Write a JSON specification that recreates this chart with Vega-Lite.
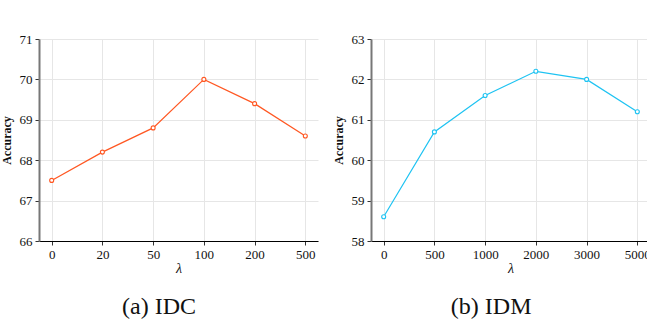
{
  "$schema": "https://vega.github.io/schema/vega-lite/v6.json",
  "padding": {"left": 0, "top": 33, "right": 0, "bottom": 0},
  "spacing": 14,
  "config": {
    "view": {"stroke": null},
    "font": "Liberation Serif",
    "axis": {
      "labelFont": "Liberation Serif",
      "labelFontSize": 13,
      "labelColor": "#111",
      "titleFont": "Liberation Serif",
      "titleColor": "#111",
      "gridColor": "#e6e6e6",
      "gridWidth": 1,
      "tickSize": 4,
      "tickColor": "#333",
      "labelPadding": 3
    },
    "axisX": {"domainColor": "#000", "domainWidth": 1.2, "titleFontStyle": "italic", "titleFontWeight": "normal", "titleFontSize": 14, "titlePadding": 0, "labelAngle": 0},
    "axisY": {"domainColor": "#777", "domainWidth": 2, "titleFontWeight": "bold", "titleFontSize": 12, "titlePadding": 6},
    "title": {"font": "Liberation Serif", "fontSize": 24, "fontWeight": "normal", "color": "#111", "orient": "bottom", "offset": 20, "anchor": "middle", "frame": "bounds"}
  },
  "datasets": {
    "idc": [
      {"lambda": "0", "acc": 67.5},
      {"lambda": "20", "acc": 68.2},
      {"lambda": "50", "acc": 68.8},
      {"lambda": "100", "acc": 70.0},
      {"lambda": "200", "acc": 69.4},
      {"lambda": "500", "acc": 68.6}
    ],
    "idm": [
      {"lambda": "0", "acc": 58.6},
      {"lambda": "500", "acc": 60.7},
      {"lambda": "1000", "acc": 61.6},
      {"lambda": "2000", "acc": 62.2},
      {"lambda": "3000", "acc": 62.0},
      {"lambda": "5000", "acc": 61.2}
    ]
  },
  "hconcat": [
    {
      "width": 279,
      "height": 202,
      "title": "(a) IDC",
      "data": {"name": "idc"},
      "encoding": {
        "x": {"field": "lambda", "type": "ordinal", "sort": null, "scale": {"type": "point", "padding": 0.25}, "axis": {"title": "λ", "grid": true}},
        "y": {"field": "acc", "type": "quantitative", "scale": {"domain": [66, 71]}, "axis": {"title": "Accuracy", "values": [66, 67, 68, 69, 70, 71], "grid": true}}
      },
      "layer": [
        {"mark": {"type": "line", "color": "#FF5722", "strokeWidth": 1.2}},
        {"mark": {"type": "point", "shape": "circle", "color": "#FF5722", "fill": "white", "filled": false, "opacity": 1, "size": 16, "strokeWidth": 1.1}}
      ]
    },
    {
      "width": 279,
      "height": 202,
      "title": "(b) IDM",
      "data": {"name": "idm"},
      "encoding": {
        "x": {"field": "lambda", "type": "ordinal", "sort": null, "scale": {"type": "point", "padding": 0.25}, "axis": {"title": "λ", "grid": true}},
        "y": {"field": "acc", "type": "quantitative", "scale": {"domain": [58, 63]}, "axis": {"title": "Accuracy", "values": [58, 59, 60, 61, 62, 63], "grid": true}}
      },
      "layer": [
        {"mark": {"type": "line", "color": "#1EC3F2", "strokeWidth": 1.2}},
        {"mark": {"type": "point", "shape": "circle", "color": "#1EC3F2", "fill": "white", "filled": false, "opacity": 1, "size": 16, "strokeWidth": 1.1}}
      ]
    }
  ]
}
